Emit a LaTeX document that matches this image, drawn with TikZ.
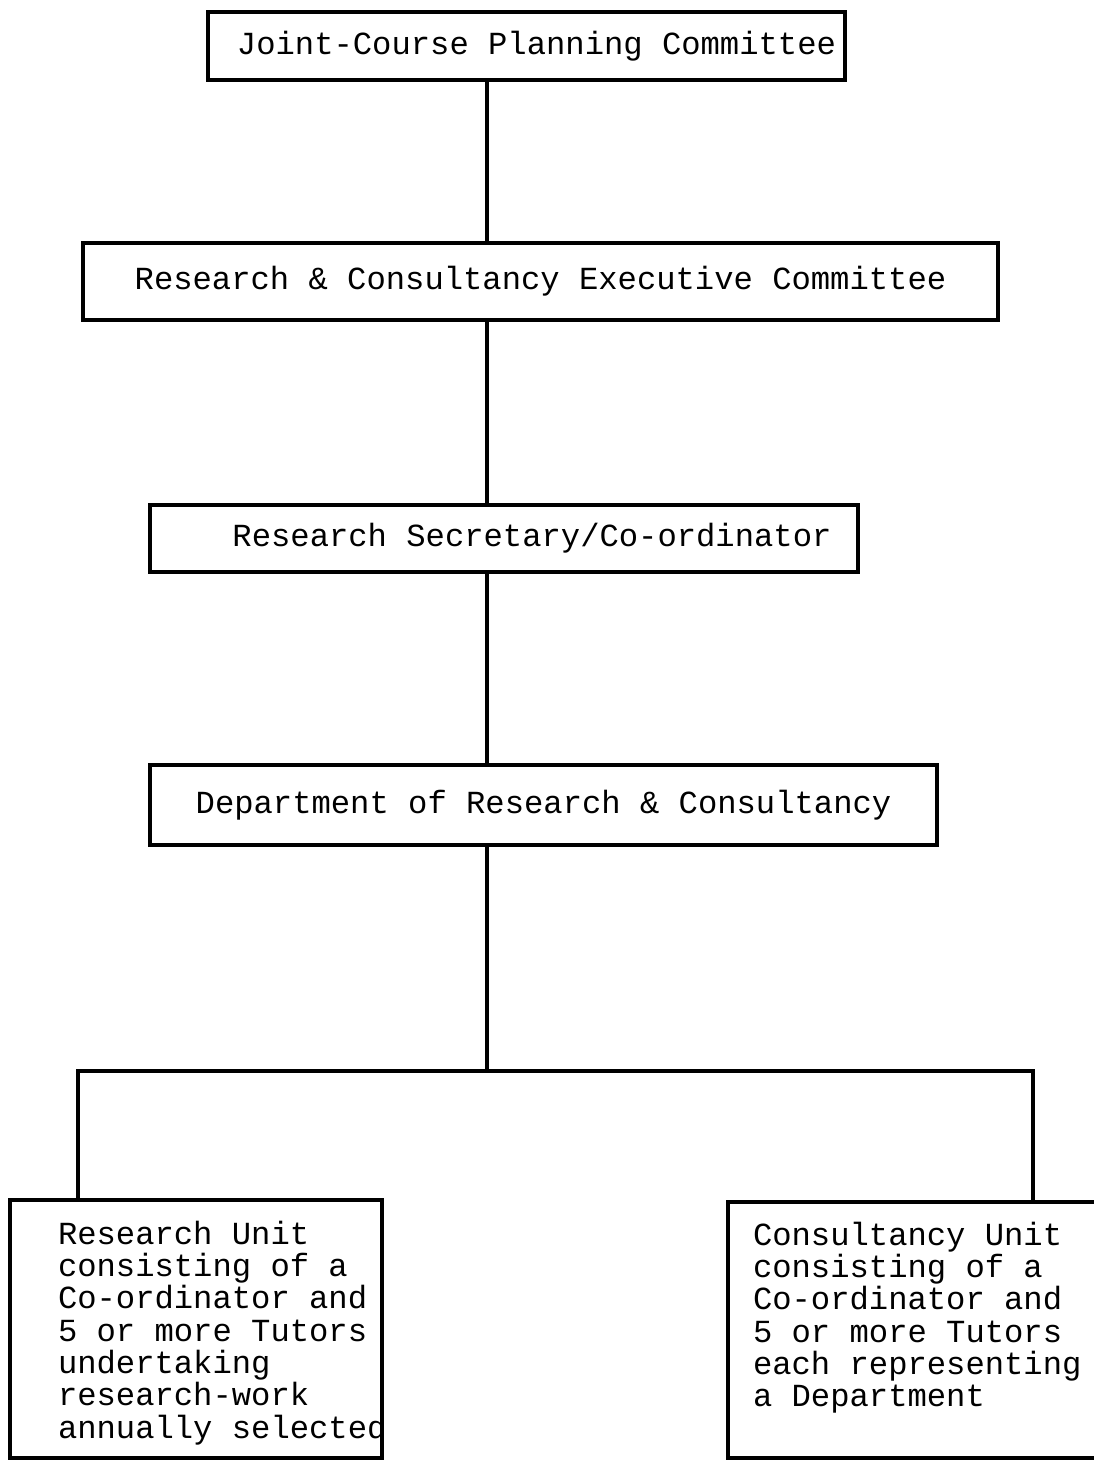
\documentclass[tikz,border=0pt]{standalone}
\usepackage{fontspec}
\newfontfamily\typewriter{Liberation Mono}
\usetikzlibrary{positioning}

\begin{document}
\begin{tikzpicture}
        [x=0.5pt, y=-0.5pt, line width=1.6pt,
        font=\typewriter\fontsize{16.1}{16.15}\selectfont,
        box/.style={draw=black, line width=1.6pt, inner sep=0pt},
        unittext/.style={anchor=north west, inner sep=0pt, align=left}]
        \useasboundingbox (0,0) rectangle (1093,1460);
        % committees, top to bottom
        \node [box, minimum width=318.5pt, minimum height=34pt] (jcpc) at (526.5,46)
            {\hspace*{10pt}Joint-Course Planning Committee};
        \node [box, minimum width=457.5pt, minimum height=38.5pt] (rcec) at (540.5,281.5)
            {Research \& Consultancy Executive Committee};
        \node [box, minimum width=354pt, minimum height=33.5pt] (secr) at (504,538.5)
            {\hspace*{28pt}Research Secretary/Co-ordinator};
        \node [box, minimum width=393.5pt, minimum height=40pt] (dept) at (543.5,805)
            {Department of Research \& Consultancy};
        % the two units
        \node [box, minimum width=186pt, minimum height=129pt] (resbox) at (196,1329) {};
        \node [unittext, below right=10.5pt and 24pt of resbox.north west] (restext)
            {Research Unit\\consisting of a\\Co-ordinator and\\5 or more Tutors\\undertaking\\research-work\\annually selected};
        \node [box, minimum width=185pt, minimum height=128pt] (conbox) at (913,1330) {};
        \node [unittext, below right=10pt and 12.5pt of conbox.north west] (context)
            {Consultancy Unit\\consisting of a\\Co-ordinator and\\5 or more Tutors\\each representing\\a Department};
        \coordinate (spine) at (487,0);
        \coordinate (lft) at (78,1071);
        \coordinate (rgt) at (1033,1071);
        \draw (jcpc.south -| spine) -- (rcec.north -| spine);
        \draw (rcec.south -| spine) -- (secr.north -| spine);
        \draw (secr.south -| spine) -- (dept.north -| spine);
        \draw (dept.south -| spine) -- (spine |- lft);
        \draw (lft |- resbox.north) -- (lft) -- (rgt) -- (rgt |- conbox.north);
\end{tikzpicture}
\end{document}
